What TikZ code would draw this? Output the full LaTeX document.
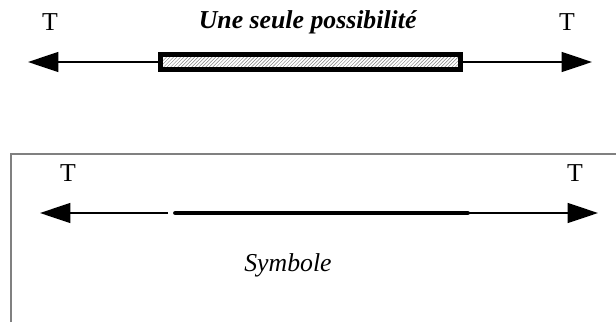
\documentclass[tikz,border=0pt]{standalone}
\usepackage{fontspec}
\setmainfont{Liberation Serif}
\usetikzlibrary{arrows.meta,patterns}

\begin{document}
\begin{tikzpicture}[x=0.03cm, y=-0.03cm, inner sep=0pt]
		\tikzstyle{every node}=[font=\fontsize{22}{26}\selectfont]
		\tikzstyle{arr}=[line width=1.6pt, -{Triangle[length=26pt, width=17pt]}]
		\useasboundingbox (0,0) rectangle (616,322);
			% upper part
			\node (tl) at (50,22) {T};
			\node (tr) at (567,22) {T};
			\node (title) at (308,22) {\textbf{\textit{Une seule possibilité}}};
			\node[draw, line width=4.2pt, minimum width=256pt, minimum height=13pt,
			      pattern=north east lines, pattern color=gray] (seg) at (310.5,62) {};
			\coordinate (endl) at (28,62);
			\coordinate (endr) at (592,62);
			\draw[arr] (seg.west) -- (endl);
			\draw[arr] (seg.east) -- (endr);
	
			% lower part, framed
			\draw[gray, line width=1.7pt] (11,322) -- (11,154) -- (616,154);
			\node (bl) at (68,173) {T};
			\node (br) at (575,173) {T};
			\coordinate (syml) at (175.5,213);
			\coordinate (symr) at (467.5,213);
			\coordinate (gap) at (168,213);
			\coordinate (endbl) at (40,213);
			\coordinate (endbr) at (598,213);
			\draw[line width=4.2pt, line cap=round] (syml) -- (symr);
			\draw[arr] (gap) -- (endbl);
			\draw[arr] (symr) -- (endbr);
			\node[font=\fontsize{22}{26}\selectfont\itshape] (sym) at (288,265) {Symbole};
		\end{tikzpicture}
\end{document}
